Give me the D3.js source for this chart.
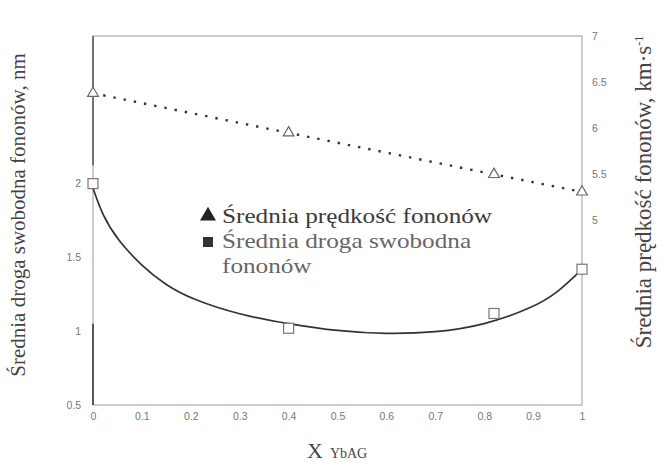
<!DOCTYPE html>
<html>
<head>
<meta charset="utf-8">
<script src="https://cdn.jsdelivr.net/npm/d3@7"></script>
<style>
  body { margin: 0; background: #fff; }
  .tick-label { font-family: "Liberation Sans", Arial, sans-serif; font-size: 10.5px; fill: #777; }
  .axis-title { font-family: "Liberation Serif", "Times New Roman", serif; fill: #444; }
</style>
</head>
<body>
<div id="chart"></div>
<script>
// data
var xComp = [0, 0.4, 0.82, 1];
var velocity = [6.38, 5.95, 5.5, 5.31];      // km/s, right axis
var pathLength = [2.0, 1.02, 1.12, 1.42];    // nm, left axis
var fitX = [0, 0.02, 0.05, 0.1, 0.15, 0.2, 0.3, 0.4, 0.5, 0.6, 0.7, 0.8, 0.9, 0.95, 1];
var fitY = [1.97, 1.78, 1.62, 1.44, 1.31, 1.22, 1.11, 1.05, 1.0, 0.98, 0.99, 1.04, 1.16, 1.26, 1.42];
var xTicks = [0, 0.1, 0.2, 0.3, 0.4, 0.5, 0.6, 0.7, 0.8, 0.9, 1];
var leftTicks = [0.5, 1, 1.5, 2];
var rightTicks = [5, 5.5, 6, 6.5, 7];

var svgWidth = 663;
var svgHeight = 469;
var margin = { top: 36, right: 81, bottom: 64, left: 93 };
var width = svgWidth - margin.left - margin.right;
var height = svgHeight - margin.top - margin.bottom;

var svg = d3.select("#chart")
  .append("svg")
  .attr("width", svgWidth)
  .attr("height", svgHeight);

var chartGroup = svg.append("g")
  .attr("transform", `translate(${margin.left}, ${margin.top})`);

var x = d3.scaleLinear().domain([0, 1]).range([0, width]);
var yLeft = d3.scaleLinear().domain([0.5, 3]).range([height, 0]);
var yRight = d3.scaleLinear().domain([3, 7]).range([height, 0]);

// frame
chartGroup.append("rect")
  .attr("width", width)
  .attr("height", height)
  .attr("fill", "none")
  .attr("stroke", "#999")
  .attr("stroke-width", 1);

chartGroup.append("line")
  .attr("x1", 0).attr("x2", 0)
  .attr("y1", yLeft(1.05)).attr("y2", height)
  .attr("stroke", "#333").attr("stroke-width", 1.5);
chartGroup.append("line")
  .attr("x1", 0).attr("x2", 0)
  .attr("y1", 0).attr("y2", yRight(5.6))
  .attr("stroke", "#555").attr("stroke-width", 1.5);

// axes
var bottomAxis = d3.axisBottom(x).tickValues(xTicks).tickSize(0).tickPadding(8)
  .tickFormat(d => d === 0 || d === 1 ? d3.format("d")(d) : d3.format(".1f")(d));
var leftAxis = d3.axisLeft(yLeft).tickValues(leftTicks).tickSize(0).tickPadding(12)
  .tickFormat(d => d % 1 === 0 ? d3.format("d")(d) : d3.format(".1f")(d));
var rightAxis = d3.axisRight(yRight).tickValues(rightTicks).tickSize(0).tickPadding(10)
  .tickFormat(d => d % 1 === 0 ? d3.format("d")(d) : d3.format(".1f")(d));

[[bottomAxis, `translate(0, ${height})`], [leftAxis, null], [rightAxis, `translate(${width}, 0)`]]
  .forEach(function(a) {
    var g = chartGroup.append("g").call(a[0]);
    if (a[1]) g.attr("transform", a[1]);
    g.select(".domain").remove();
    g.selectAll("text").attr("class", "tick-label").attr("font-family", null).attr("font-size", null);
  });

// dotted velocity line
var velLine = d3.line()
  .x((d, i) => x(xComp[i]))
  .y(d => yRight(d));

chartGroup.append("path")
  .datum(velocity)
  .attr("d", velLine)
  .attr("fill", "none")
  .attr("stroke", "#333")
  .attr("stroke-width", 2.4)
  .attr("stroke-dasharray", "2.4,8");

// fitted curve for path length
var fitLine = d3.line()
  .x((d, i) => x(fitX[i]))
  .y(d => yLeft(d))
  .curve(d3.curveBasis);

chartGroup.append("path")
  .datum(fitY)
  .attr("d", fitLine)
  .attr("fill", "none")
  .attr("stroke", "#333")
  .attr("stroke-width", 1.7);

// markers
chartGroup.selectAll(".tri")
  .data(velocity)
  .enter()
  .append("path")
  .attr("class", "tri")
  .attr("d", d3.symbol().type(d3.symbolTriangle).size(50))
  .attr("transform", (d, i) => `translate(${x(xComp[i])}, ${yRight(d)})`)
  .attr("fill", "#fff")
  .attr("stroke", "#666")
  .attr("stroke-width", 1.2);

chartGroup.selectAll(".sq")
  .data(pathLength)
  .enter()
  .append("rect")
  .attr("class", "sq")
  .attr("x", (d, i) => x(xComp[i]) - 5)
  .attr("y", d => yLeft(d) - 5)
  .attr("width", 10)
  .attr("height", 10)
  .attr("fill", "#fff")
  .attr("stroke", "#777")
  .attr("stroke-width", 1.2);

// legend
var legend = svg.append("g").attr("class", "axis-title").attr("font-size", "21px");
legend.append("path")
  .attr("d", d3.symbol().type(d3.symbolTriangle).size(110))
  .attr("transform", "translate(208, 216)")
  .attr("fill", "#222");
legend.append("rect")
  .attr("x", 203).attr("y", 237).attr("width", 10).attr("height", 10)
  .attr("fill", "#333");
var legendText = legend.append("g").attr("transform", "translate(222, 0) scale(1.2, 1)");
legendText.append("text").attr("x", 0).attr("y", 223).attr("fill", "#3a3a3a").text("Średnia prędkość fononów");
legendText.append("text").attr("x", 0).attr("y", 248).attr("fill", "#666").text("Średnia droga swobodna");
legendText.append("text").attr("x", 0).attr("y", 273).attr("fill", "#666").text("fononów");

// axis titles
svg.append("text")
  .attr("class", "axis-title")
  .attr("transform", "translate(25, 215) rotate(-90)")
  .attr("text-anchor", "middle")
  .attr("font-size", "21px")
  .attr("fill", "#555")
  .text("Średnia droga swobodna fononów, nm");

var rightTitle = svg.append("text")
  .attr("class", "axis-title")
  .attr("transform", "translate(651, 192) rotate(-90)")
  .attr("text-anchor", "middle")
  .attr("font-size", "23px")
  .attr("fill", "#555");
rightTitle.append("tspan").text("Średnia prędkość fononów, km·s");
rightTitle.append("tspan").attr("dy", -8).attr("font-size", "12px").text("-1");

var xTitle = svg.append("text")
  .attr("class", "axis-title")
  .attr("x", 307)
  .attr("y", 458)
  .attr("font-size", "22px")
  .attr("fill", "#333");
xTitle.append("tspan").text("X");
xTitle.append("tspan").attr("dx", 7).attr("font-size", "14px").text("YbAG");
</script>
</body>
</html>
